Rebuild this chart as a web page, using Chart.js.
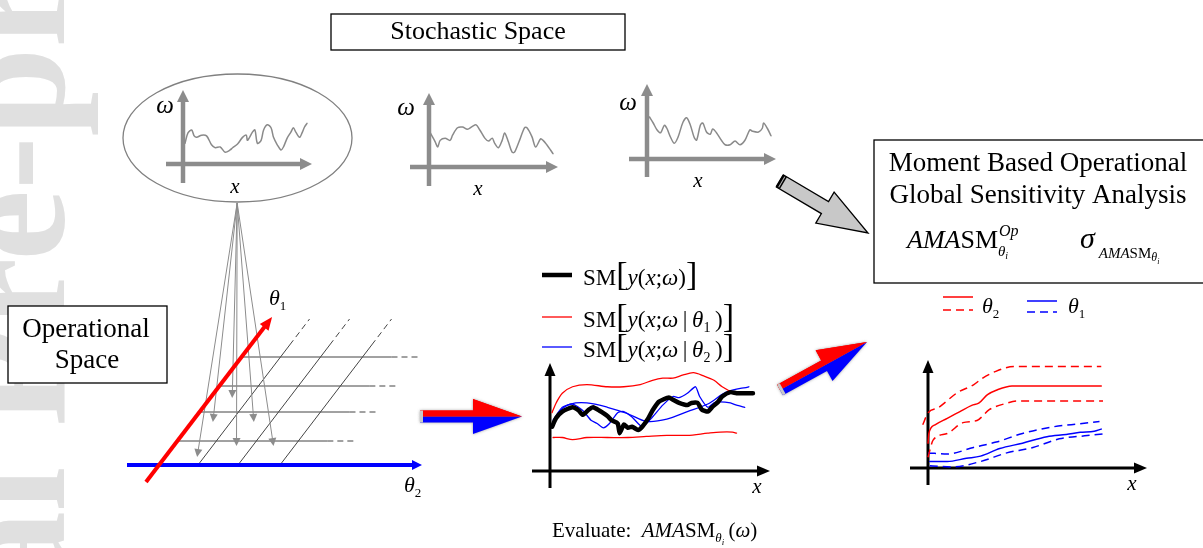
<!DOCTYPE html>
<html>
<head>
<meta charset="utf-8">
<script src="https://cdn.jsdelivr.net/npm/chart.js@4"></script>
<style>
  body { margin: 0; background: #fff; }
  #wrap { position: relative; width: 1203px; height: 548px; overflow: hidden; background: #fff; }
  #wrap canvas { position: absolute; }
</style>
</head>
<body>
<div id="wrap"></div>
<script>
// ---- data (x in % of curve length, y in % of axis height) ----
const omega1X = [1.6,4,7,9,11,15,19,23,26,30,34,38,40,44,48,51,52,56,58,60,63,65,68,71,73,76,79,81,84,87,89,91,94,96,98,100];
const omega1Y = [28,42,46,38,36,39,38,26,22,23,16,19,22,27,36,39,32,43,46,28,32,46,53,49,36,26,19,23,35,43,49,43,36,42,50,55];
const omega2X = [1,5,7,9,13,17,19,23,27,31,35,38,41,45,48,51,53,56,59,61,64,67,69,73,77,79,83,86,90,92,95,98,100];
const omega2Y = [46,34,27,36,39,36,43,53,54,51,55,57,50,39,35,39,32,26,36,46,34,20,20,36,53,53,41,27,38,36,30,23,18];
const omega3X = [2,5,8,11,14,16,19,22,25,29,32,35,38,40,43,45,48,51,53,56,60,63,67,71,75,79,83,85,90,93,94,97,100];
const omega3Y = [56,48,39,35,45,41,29,21,29,49,55,45,29,25,45,48,36,33,40,35,25,19,19,24,19,25,39,37,36,41,48,41,31];

// SM[y(x;w)] and the conditional moments
const smX = [1,3,6,11,14,16,19,21,24,28,30,33,34,36,38,40,43,45,48,50,53,55,58,60,63,67,69,72,74,77,79,82,84,88,91,94,99];
const smY = [41,49,55,59,56,52,57,59,56,51,47,44,35,43,40,41,38,41,49,56,64,66,68,66,63,61,63,63,57,55,59,64,69,73,72,72,72];
const redUpX = [1,3,6,11,18,28,36,44,50,55,60,65,70,75,80,84,89,93];
const redUpY = [54,63,72,78,80,78,78,80,84,86,86,89,91,88,84,78,73,72];
const redLowX = [1.5,6,11,18,28,38,47,57,67,77,83,89,91];
const redLowY = [31,31,29,31,31,31,32,33,33,35,36,36,35];
const blueSmoothX = [1,5,10,18,28,38,47,57,67,77,86,97];
const blueSmoothY = [43,56,62,63,59,53,46,48,55,62,73,78];
const blueWigX = [1.5,6,11,16,20,23,26,29,33,36,40,45,50,55,60,63,67,71,73,77,80,83,88,91,95];
const blueWigY = [47,59,62,56,47,44,40,44,54,55,50,41,50,61,69,68,72,78,69,59,63,64,63,61,59];

// AMASM mean and +/- sigma for theta2 (red) and theta1 (blue)
const t2MeanX = [0,0.5,4,11,18,25,29,34,39,48,99];
const t2MeanY = [23,32,40,46,52,58,60,68,72,76,76];
const t2UpX = [-3,0,6,17,26,31,38,49,99];
const t2UpY = [40,51,56,70,77,83,89,94,94];
const t2LowX = [0,3,11,20,28,35,45,51,100];
const t2LowY = [10,26,32,42,44,54,60,62,62];
const t1MeanX = [1,11,22,30,41,54,68,79,87,95,99];
const t1MeanY = [6,6,9,11,18,23,29,31,33,34,36];
const t1UpX = [0,11,26,39,54,71,87,98];
const t1UpY = [14,13,19,24,32,38,41,43];
const t1LowX = [1,14,30,45,60,75,91,102];
const t1LowY = [2,1,6,14,19,27,30,32];

// operational space grid (theta2 along, theta1 up)
const theta1Levels = [24, 53, 79, 108];
const theta2Levels = [39, 79, 121];
const sampleT2 = [32, 21, 22, 63, 62, 100];
const sampleT1 = [8, 43, 67, 19, 43, 19];
const sourceT2 = -122, sourceT1 = 262;

// ---- helpers ----
const SERIF = '"Liberation Serif","Times New Roman",serif';
const wrap = document.getElementById('wrap');

function addCanvas(left, top, w, h) {
  const c = document.createElement('canvas');
  c.width = w; c.height = h;
  c.style.left = left + 'px'; c.style.top = top + 'px';
  c.style.width = w + 'px'; c.style.height = h + 'px';
  wrap.appendChild(c);
  return c;
}

function font(size, it) { return (it ? 'italic ' : '') + size + 'px ' + SERIF; }

// parts: [text, size, italic, dy]
function rich(ctx, x, y, parts) {
  parts.forEach(p => {
    ctx.font = font(p[1], p[2]);
    ctx.fillText(p[0], x, y + (p[3] || 0));
    x += ctx.measureText(p[0]).width;
  });
  return x;
}

function textC(ctx, s, x, y, size, it) {
  ctx.font = font(size, it);
  ctx.textAlign = 'center';
  ctx.fillText(s, x, y);
  ctx.textAlign = 'left';
}

function arrowLine(ctx, x1, y1, x2, y2, hl, hw) {
  const d = Math.hypot(x2 - x1, y2 - y1), ux = (x2 - x1) / d, uy = (y2 - y1) / d;
  ctx.beginPath(); ctx.moveTo(x1, y1); ctx.lineTo(x2 - ux * hl * 0.8, y2 - uy * hl * 0.8); ctx.stroke();
  ctx.beginPath(); ctx.moveTo(x2, y2);
  ctx.lineTo(x2 - ux * hl - uy * hw, y2 - uy * hl + ux * hw);
  ctx.lineTo(x2 - ux * hl + uy * hw, y2 - uy * hl - ux * hw);
  ctx.closePath(); ctx.fill();
}

function baseOptions(scales) {
  return {
    responsive: false, animation: false, devicePixelRatio: 1, events: [],
    layout: { padding: 0 },
    plugins: { legend: { display: false }, tooltip: { enabled: false } },
    scales
  };
}

function plot(g, series) {
  const cv = addCanvas(g.left, g.top, g.w, g.h);
  const kx = 100 / g.span, ky = 100 / g.hgt;
  const axes = {
    id: 'axes',
    beforeDatasetsDraw(chart) {
      const ctx = chart.ctx;
      ctx.save();
      ctx.strokeStyle = ctx.fillStyle = g.axisColor;
      ctx.lineWidth = g.axisWidth;
      arrowLine(ctx, g.xAxis[0] - g.left, g.oy - g.top, g.xAxis[1] - g.left, g.oy - g.top, g.head, g.headW);
      arrowLine(ctx, g.ox - g.left, g.yAxis[0] - g.top, g.ox - g.left, g.yAxis[1] - g.top, g.head, g.headW);
      ctx.restore();
    }
  };
  return new Chart(cv, {
    type: 'scatter',
    data: {
      datasets: series.map(s => ({
        data: s.x.map((x, i) => ({ x, y: s.y[i] })),
        showLine: true, borderColor: s.color, borderWidth: s.width,
        borderDash: s.dash || [], pointRadius: 0,
        tension: s.tension ?? 0.3,
        cubicInterpolationMode: s.mono ? 'monotone' : 'default',
        borderJoinStyle: 'round', borderCapStyle: s.dash ? 'butt' : 'round'
      }))
    },
    options: baseOptions({
      x: { type: 'linear', display: false, min: (g.left - g.ox) * kx, max: (g.left + g.w - g.ox) * kx },
      y: { type: 'linear', display: false, min: (g.oy - g.top - g.h) * ky, max: (g.oy - g.top) * ky }
    }),
    plugins: [axes]
  });
}

// ---- background scene: boxes, labels, big arrows ----
function bigArrow(ctx, x1, y1, x2, y2) {
  const L = Math.hypot(x2 - x1, y2 - y1);
  ctx.translate(x1, y1);
  ctx.rotate(Math.atan2(y2 - y1, x2 - x1));
  return L;
}

function rbArrow(ctx, x1, y1, x2, y2) {
  const sh = 6, hl = 49, hh = 17.5;
  ctx.save();
  const L = bigArrow(ctx, x1, y1, x2, y2);
  const upper = () => {
    ctx.beginPath();
    ctx.moveTo(0, -sh); ctx.lineTo(L - hl, -sh); ctx.lineTo(L - hl, -hh); ctx.lineTo(L, 0); ctx.lineTo(0, 0);
    ctx.closePath(); ctx.fill();
  };
  ctx.shadowColor = 'rgba(110,110,110,0.7)'; ctx.shadowBlur = 3;
  ctx.fillStyle = '#ff0000';
  upper();
  ctx.fillStyle = '#0000ff';
  ctx.beginPath();
  ctx.moveTo(0, 0); ctx.lineTo(L, 0); ctx.lineTo(L - hl, hh); ctx.lineTo(L - hl, sh); ctx.lineTo(0, sh);
  ctx.closePath(); ctx.fill();
  ctx.shadowBlur = 0;
  ctx.fillStyle = '#ff0000';
  upper();
  ctx.fillStyle = '#c8c8c8';
  ctx.fillRect(0, -sh, 3, sh * 2);
  ctx.restore();
}

function grayArrow(ctx, x1, y1, x2, y2) {
  const sh = 7, hl = 50, hh = 18;
  ctx.save();
  const L = bigArrow(ctx, x1, y1, x2, y2);
  ctx.fillStyle = '#c8c8c8'; ctx.strokeStyle = '#000'; ctx.lineWidth = 1.3;
  ctx.beginPath();
  ctx.moveTo(0, -sh); ctx.lineTo(L - hl, -sh); ctx.lineTo(L - hl, -hh); ctx.lineTo(L, 0);
  ctx.lineTo(L - hl, hh); ctx.lineTo(L - hl, sh); ctx.lineTo(0, sh); ctx.closePath();
  ctx.fill(); ctx.stroke();
  ctx.fillStyle = '#000';
  ctx.fillRect(-1, -sh, 5, sh * 2);
  ctx.strokeStyle = '#bbb'; ctx.lineWidth = 1;
  ctx.beginPath(); ctx.moveTo(2, -sh + 1); ctx.lineTo(2, sh - 1); ctx.stroke();
  ctx.restore();
}

function box(ctx, x, y, w, h) {
  ctx.fillStyle = '#fff'; ctx.fillRect(x, y, w, h);
  ctx.strokeStyle = '#000'; ctx.lineWidth = 1.3; ctx.strokeRect(x, y, w, h);
  ctx.fillStyle = '#000';
}

function legendLine(ctx, x1, x2, y, color, width, dash) {
  ctx.save();
  ctx.strokeStyle = color; ctx.lineWidth = width; ctx.setLineDash(dash || []);
  ctx.beginPath(); ctx.moveTo(x1, y); ctx.lineTo(x2, y); ctx.stroke();
  ctx.restore();
}

function drawScene(ctx) {
  ctx.save();
  ctx.textBaseline = 'alphabetic';
  // watermark down the left margin
  ctx.save();
  ctx.translate(64, 1000); ctx.rotate(-Math.PI / 2);
  ctx.font = 'bold 160px ' + SERIF; ctx.fillStyle = '#e0e0e0';
  ctx.fillText('Journal Pre-proof', 0, 0);
  ctx.restore();

  box(ctx, 331, 14, 294, 36);
  textC(ctx, 'Stochastic Space', 478, 39, 26);

  box(ctx, 8, 306, 159, 77);
  textC(ctx, 'Operational', 86, 337, 27);
  textC(ctx, 'Space', 87, 368, 27);

  box(ctx, 874, 140, 340, 143);
  textC(ctx, 'Moment Based Operational', 1038, 171, 27);
  textC(ctx, 'Global Sensitivity Analysis', 1038, 203, 27);
  let x = rich(ctx, 907, 248, [['AMA', 26, 1], ['SM', 26, 0]]);
  rich(ctx, x + 1, 248, [['Op', 16, 1, -12]]);
  rich(ctx, x, 248, [['θ', 15, 1, 8], ['i', 10, 1, 11]]);
  x = rich(ctx, 1080, 248, [['σ', 30, 1]]);
  rich(ctx, x + 4, 258, [['AMA', 15, 1], ['SM', 15, 0], ['θ', 12, 1, 3], ['i', 8, 1, 6]]);

  // ellipse around first realisation
  ctx.strokeStyle = '#808080'; ctx.lineWidth = 1.3;
  ctx.beginPath(); ctx.ellipse(237.5, 138, 114.5, 64, 0, 0, Math.PI * 2); ctx.stroke();

  // axis labels of the small plots
  ctx.fillStyle = '#000';
  textC(ctx, 'ω', 165, 113, 25, 1); textC(ctx, 'x', 235, 193, 21, 1);
  textC(ctx, 'ω', 406, 115, 25, 1); textC(ctx, 'x', 478, 195, 21, 1);
  textC(ctx, 'ω', 628, 110, 25, 1); textC(ctx, 'x', 698, 187, 21, 1);
  textC(ctx, 'x', 757, 493, 21, 1); textC(ctx, 'x', 1132, 490, 21, 1);

  rich(ctx, 269, 305, [['θ', 22, 1], ['1', 13, 0, 5]]);
  rich(ctx, 404, 492, [['θ', 22, 1], ['2', 13, 0, 5]]);

  grayArrow(ctx, 780, 181, 868, 233);
  rbArrow(ctx, 420, 416.5, 522, 416.5);
  rbArrow(ctx, 780, 390, 867, 342);

  // legend of the moments plot
  legendLine(ctx, 542, 572, 275, '#000', 4.5);
  legendLine(ctx, 542, 572, 317, '#ff0000', 1.3);
  legendLine(ctx, 542, 572, 347, '#0000ff', 1.3);
  ctx.fillStyle = '#000';
  const head = [['SM', 23, 0], ['[', 34, 0], ['y', 23, 1], ['(', 23, 0], ['x', 23, 1], [';', 23, 0], ['ω', 23, 1]];
  rich(ctx, 583, 285, head.concat([[')', 23, 0], [']', 34, 0]]));
  rich(ctx, 583, 327, head.concat([['\u2009|\u2009', 23, 0], ['θ', 23, 1], ['1', 14, 0, 5], ['\u2009)', 23, 0], [']', 34, 0]]));
  rich(ctx, 583, 357, head.concat([['\u2009|\u2009', 23, 0], ['θ', 23, 1], ['2', 14, 0, 5], ['\u2009)', 23, 0], [']', 34, 0]]));

  rich(ctx, 552, 537, [['Evaluate:  ', 21, 0], ['AMA', 21, 1], ['SM', 21, 0], ['θ', 13, 1, 5], ['i', 9, 1, 8],
    ['\u2009(', 21, 0], ['ω', 21, 1], [')', 21, 0]]);

  // legend of the sensitivity plot
  legendLine(ctx, 943, 973, 297, '#ff0000', 1.5);
  legendLine(ctx, 943, 973, 310, '#ff0000', 1.5, [8, 5]);
  legendLine(ctx, 1027, 1057, 301, '#0000ff', 1.5);
  legendLine(ctx, 1027, 1057, 312, '#0000ff', 1.5, [8, 5]);
  ctx.fillStyle = '#000';
  rich(ctx, 982, 313, [['θ', 22, 1], ['2', 13, 0, 5]]);
  rich(ctx, 1068, 313, [['θ', 22, 1], ['1', 13, 0, 5]]);
  ctx.restore();
}

const bg = addCanvas(0, 0, 1203, 548);
new Chart(bg, {
  type: 'scatter',
  data: { datasets: [] },
  options: baseOptions({ x: { display: false }, y: { display: false } }),
  plugins: [{ id: 'scene', afterDraw(chart) { drawScene(chart.ctx); } }]
});

// ---- operational space (oblique theta2 / theta1 frame) ----
const SHEAR = 0.764;
const obl = (t2, t1) => ({ x: t2 + SHEAR * t1, y: t1 });
const GRID_SOLID = 150, GRID_DASH = 180, DIAG_SOLID = 120, DIAG_DASH = 146;

const opSets = [];
function seg(pts, color, width, dash, head) {
  opSets.push({ data: pts, showLine: true, borderColor: color, borderWidth: width,
    borderDash: dash || [], pointRadius: 0, tension: 0, borderCapStyle: 'butt', head });
}
seg([obl(0, -17), obl(0, 148)], '#ff0000', 4, null, [13, 5.5]);
seg([obl(-32, 0), obl(263, 0)], '#0000ff', 4, null, [10, 5]);
sampleT2.forEach((t2, i) => seg([obl(sourceT2, sourceT1), obl(t2, sampleT1[i])], '#8c8c8c', 1, null, [8, 4]));
theta1Levels.forEach(l => {
  seg([obl(0, l), obl(GRID_SOLID, l)], '#444', 1);
  seg([obl(GRID_SOLID, l), obl(GRID_DASH, l)], '#444', 1, [6, 4]);
});
theta2Levels.forEach(t2 => {
  seg([obl(t2, 0), obl(t2, DIAG_SOLID)], '#444', 1);
  seg([obl(t2, DIAG_SOLID), obl(t2, DIAG_DASH)], '#444', 1, [6, 4]);
});

const headsPlugin = {
  id: 'heads',
  beforeDatasetDraw(chart, args) {
    const ds = chart.data.datasets[args.index];
    if (!ds.head) return;
    const pts = args.meta.data, n = pts.length;
    const a = pts[n - 2], b = pts[n - 1];
    const dx = b.x - a.x, dy = b.y - a.y, d = Math.hypot(dx, dy);
    args.meta._tip = { x: b.x, y: b.y, ux: dx / d, uy: dy / d };
    b.x -= dx / d * ds.head[0] * 0.7; b.y -= dy / d * ds.head[0] * 0.7;
  },
  afterDatasetDraw(chart, args) {
    const ds = chart.data.datasets[args.index];
    const t = args.meta._tip;
    if (!ds.head || !t) return;
    const b = args.meta.data[args.meta.data.length - 1];
    b.x = t.x; b.y = t.y;
    const ctx = chart.ctx, L = ds.head[0], W = ds.head[1];
    ctx.save(); ctx.fillStyle = ds.borderColor;
    ctx.beginPath();
    ctx.moveTo(t.x, t.y);
    ctx.lineTo(t.x - t.ux * L - t.uy * W, t.y - t.uy * L + t.ux * W);
    ctx.lineTo(t.x - t.ux * L + t.uy * W, t.y - t.uy * L - t.ux * W);
    ctx.closePath(); ctx.fill(); ctx.restore();
  }
};

const OP = { left: 110, top: 190, w: 330, h: 315, ox: 159, oy: 465 };
new Chart(addCanvas(OP.left, OP.top, OP.w, OP.h), {
  type: 'scatter',
  data: { datasets: opSets },
  options: baseOptions({
    x: { type: 'linear', display: false, min: OP.left - OP.ox, max: OP.left + OP.w - OP.ox },
    y: { type: 'linear', display: false, min: OP.oy - OP.top - OP.h, max: OP.oy - OP.top }
  }),
  plugins: [headsPlugin]
});

// ---- the plots ----
const grayAxes = { axisColor: '#8c8c8c', axisWidth: 4.5, head: 12, headW: 6 };
const blackAxes = { axisColor: '#000', axisWidth: 3, head: 13, headW: 5.5 };
const GRAY = '#8a8a8a';

plot({ left: 150, top: 80, w: 175, h: 115, ox: 183, oy: 164, span: 124, hgt: 74,
  xAxis: [166, 312], yAxis: [183, 90], ...grayAxes },
  [{ x: omega1X, y: omega1Y, color: GRAY, width: 1.5 }]);
plot({ left: 400, top: 85, w: 170, h: 110, ox: 429, oy: 167, span: 124, hgt: 74,
  xAxis: [410, 558], yAxis: [186, 93], ...grayAxes },
  [{ x: omega2X, y: omega2Y, color: GRAY, width: 1.5 }]);
plot({ left: 615, top: 75, w: 170, h: 110, ox: 647, oy: 159, span: 124, hgt: 75,
  xAxis: [629, 776], yAxis: [177, 84], ...grayAxes },
  [{ x: omega3X, y: omega3Y, color: GRAY, width: 1.5 }]);

plot({ left: 525, top: 355, w: 255, h: 140, ox: 550, oy: 471, span: 205, hgt: 108,
  xAxis: [532, 770], yAxis: [488, 363], ...blackAxes },
  [
    { x: smX, y: smY, color: '#000', width: 4.5, tension: 0.2 },
    { x: redUpX, y: redUpY, color: '#ff0000', width: 1.3 },
    { x: redLowX, y: redLowY, color: '#ff0000', width: 1.3 },
    { x: blueSmoothX, y: blueSmoothY, color: '#0000ff', width: 1.3 },
    { x: blueWigX, y: blueWigY, color: '#0000ff', width: 1.3, tension: 0.2 }
  ]);

plot({ left: 900, top: 352, w: 255, h: 140, ox: 928, oy: 468, span: 175, hgt: 108,
  xAxis: [910, 1147], yAxis: [485, 360], ...blackAxes },
  [
    { x: t2MeanX, y: t2MeanY, color: '#ff0000', width: 1.5, mono: true },
    { x: t2UpX, y: t2UpY, color: '#ff0000', width: 1.5, dash: [8, 5], mono: true },
    { x: t2LowX, y: t2LowY, color: '#ff0000', width: 1.5, dash: [8, 5], mono: true },
    { x: t1MeanX, y: t1MeanY, color: '#0000ff', width: 1.5, mono: true },
    { x: t1UpX, y: t1UpY, color: '#0000ff', width: 1.5, dash: [8, 5], mono: true },
    { x: t1LowX, y: t1LowY, color: '#0000ff', width: 1.5, dash: [8, 5], mono: true }
  ]);
</script>
</body>
</html>
